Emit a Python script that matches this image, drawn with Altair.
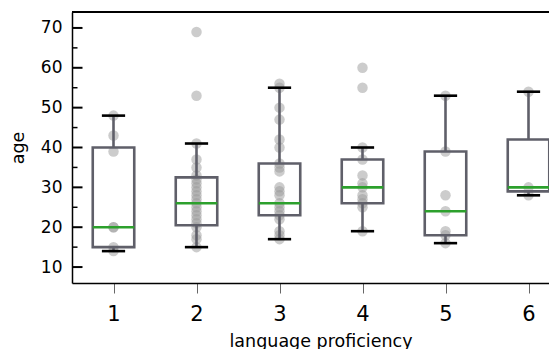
import altair as alt
import pandas as pd

# ---- data ----
categories = [1, 2, 3, 4, 5, 6]
q1 = [15, 20.5, 23, 26, 18, 29]
median = [20, 26, 26, 30, 24, 30]
q3 = [40, 32.5, 36, 37, 39, 42]
whisker_lo = [14, 15, 17, 19, 16, 28]
whisker_hi = [48, 41, 55, 40, 53, 54]

ages_1 = [48, 43, 39, 20, 20, 15, 14]
ages_2 = [69, 53, 41, 37, 35, 33, 32, 31, 30, 29, 28, 27, 26, 25, 24, 23, 22, 21, 20, 18, 17, 15]
ages_3 = [56, 55, 50, 47, 42, 40, 36, 35, 34, 30, 29, 28, 26, 25, 24, 23, 22, 19, 18, 17]
ages_4 = [60, 55, 40, 37, 33, 31, 30, 28, 27, 26, 25, 19]
ages_5 = [53, 39, 28, 24, 19, 18, 16]
ages_6 = [54, 30, 28]

y_major = [10, 20, 30, 40, 50, 60, 70]
y_minor = [15, 25, 35, 45, 55, 65]

# ---- tables ----
stats = pd.DataFrame({"cat": categories, "q1": q1, "med": median, "q3": q3,
                      "lo": whisker_lo, "hi": whisker_hi})
all_ages = [ages_1, ages_2, ages_3, ages_4, ages_5, ages_6]
pts = pd.DataFrame([{"cat": c, "age": a} for c, lst in zip(categories, all_ages) for a in lst])
major_df = pd.DataFrame({"v": y_major})
minor_df = pd.DataFrame({"v": y_minor})

W, H = 485, 271
xscale = alt.Scale(domain=[0.5, 0.5 + W / 83.0], nice=False, zero=False)
yscale = alt.Scale(domain=[6, 74], nice=False, zero=False)
BOX = "#5f5f69"

xaxis = alt.Axis(values=categories, format="d", labelFontSize=21, labelColor="#000",
                 tickSize=10, tickColor="#666", tickWidth=1, labelPadding=10,
                 domainColor="#000", domainWidth=1.5, grid=False,
                 title="language proficiency", titleFontSize=17.5, titleFontWeight="normal",
                 titleColor="#000", titleX=248.5, titleY=63, titleBaseline="alphabetic")
yaxis = alt.Axis(values=y_major, format="d", labelFontSize=17, labelColor="#000",
                 ticks=False, labelPadding=10, domainColor="#000", domainWidth=1.5,
                 grid=False, title="age", titleFontSize=17.5, titleFontWeight="normal",
                 titleColor="#000", titleX=-49, titleBaseline="alphabetic")

base = alt.Chart(stats).transform_calculate(
    xl="datum.cat - 0.25", xr="datum.cat + 0.25",
    cl="datum.cat - 0.14", cr="datum.cat + 0.14")

points = alt.Chart(pts).mark_circle(size=110, color="#999999", opacity=0.5).encode(
    x=alt.X("cat:Q", scale=xscale, axis=xaxis),
    y=alt.Y("age:Q", scale=yscale, axis=yaxis))

box = base.mark_rect(fill=None, stroke=BOX, strokeWidth=2.6).encode(
    x=alt.X("xl:Q", scale=xscale), x2="xr:Q",
    y=alt.Y("q1:Q", scale=yscale), y2="q3:Q")

wh_hi = base.mark_rule(color=BOX, strokeWidth=2.6).encode(
    x=alt.X("cat:Q", scale=xscale), y=alt.Y("q3:Q", scale=yscale), y2="hi:Q")
wh_lo = base.mark_rule(color=BOX, strokeWidth=2.6).encode(
    x=alt.X("cat:Q", scale=xscale), y=alt.Y("q1:Q", scale=yscale), y2="lo:Q")

cap_hi = base.mark_rule(color="#000", strokeWidth=2.6).encode(
    x=alt.X("cl:Q", scale=xscale), x2="cr:Q", y=alt.Y("hi:Q", scale=yscale))
cap_lo = base.mark_rule(color="#000", strokeWidth=2.6).encode(
    x=alt.X("cl:Q", scale=xscale), x2="cr:Q", y=alt.Y("lo:Q", scale=yscale))

med = base.mark_rule(color="#2ca02c", strokeWidth=2.6).encode(
    x=alt.X("xl:Q", scale=xscale), x2="xr:Q", y=alt.Y("med:Q", scale=yscale))

ticks_major = alt.Chart(major_df).mark_rule(color="#000", strokeWidth=2).encode(
    x=alt.value(0), x2=alt.value(10.5), y=alt.Y("v:Q", scale=yscale))
ticks_minor = alt.Chart(minor_df).mark_rule(color="#000", strokeWidth=1.5).encode(
    x=alt.value(0), x2=alt.value(5.5), y=alt.Y("v:Q", scale=yscale))

top_spine = alt.Chart(major_df).mark_rule(color="#000", strokeWidth=1.5).encode(
    x=alt.value(0), x2=alt.value(W), y=alt.value(0))

chart = alt.layer(points, box, wh_hi, wh_lo, cap_hi, cap_lo, med,
                  ticks_major, ticks_minor, top_spine).properties(
    width=W, height=H,
    autosize=alt.AutoSizeParams(type="none"),
    padding={"left": 64, "top": 4, "right": -8, "bottom": 66},
).configure(font="DejaVu Sans").configure_view(stroke=None)

chart.save("out.html", embed_options={"renderer": "svg", "actions": False})
